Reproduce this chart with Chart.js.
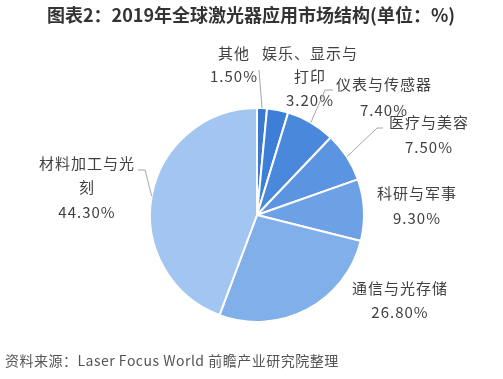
<!DOCTYPE html>
<html>
<head>
<meta charset="utf-8">
<script src="https://cdn.jsdelivr.net/npm/chart.js@4/dist/chart.umd.min.js"></script>
<style>
  html, body { margin: 0; padding: 0; background: #fff; }
  #wrap { position: relative; width: 503px; height: 379px; }
</style>
</head>
<body>
<div id="wrap"><canvas id="pie" width="503" height="379"></canvas></div>
<script>
// 2019 global laser application market structure (%)
var categories = ["其他", "娱乐、显示与打印", "仪表与传感器", "医疗与美容", "科研与军事", "通信与光存储", "材料加工与光刻"];
var shares = [1.5, 3.2, 7.4, 7.5, 9.3, 26.8, 44.3];
// how each category label wraps on the chart
var labelLines = [["其他"], ["娱乐、显示与", "打印"], ["仪表与传感器"], ["医疗与美容"], ["科研与军事"], ["通信与光存储"], ["材料加工与光", "刻"]];

var TITLE = "图表2：2019年全球激光器应用市场结构(单位：%)";
var SOURCE = "资料来源：Laser Focus World 前瞻产业研究院整理";

var COLORS = ["#3a78d2", "#3c7ed8", "#4a88dc", "#5b94e0", "#6da1e5", "#80afea", "#a2c5f1"];

// label placement: text centre x, first line y, line gap, leader (elbow points) or null
var LABEL_POS = [
  { x: 234, y: 53, gap: 23, leader: [[259, 70]] },
  { x: 310, y: 53, gap: 23.5, leader: null },
  { x: 384, y: 84, gap: 26, leader: [[333, 90], [325, 90]] },
  { x: 429, y: 122, gap: 25, leader: [[383, 128], [377, 128]] },
  { x: 417, y: 193, gap: 25, leader: null },
  { x: 400, y: 288, gap: 24, leader: null },
  { x: 87, y: 163, gap: 24.5, leader: [[138, 170], [145, 170]] }
];

var FONT = '"Noto Sans CJK SC", "Noto Sans", sans-serif';

var labelPlugin = {
  id: "pieLabels",
  afterDraw: function (chart) {
    var ctx = chart.ctx;
    var meta = chart.getDatasetMeta(0);
    ctx.save();

    // title
    ctx.fillStyle = "#333";
    ctx.font = "bold 18px " + FONT;
    ctx.textAlign = "center";
    ctx.textBaseline = "middle";
    ctx.fillText(TITLE, 251, 15);

    // source
    ctx.fillStyle = "#555";
    ctx.font = "14px " + FONT;
    ctx.textAlign = "left";
    ctx.letterSpacing = "0.5px";
    ctx.fillText(SOURCE, 5, 361);

    meta.data.forEach(function (arc, i) {
      var p = LABEL_POS[i];
      var mid = (arc.startAngle + arc.endAngle) / 2;
      var r = arc.outerRadius;
      var ex = arc.x + Math.cos(mid) * r;
      var ey = arc.y + Math.sin(mid) * r;

      if (p.leader) {
        ctx.strokeStyle = "#a6a6a6";
        ctx.lineWidth = 1;
        ctx.beginPath();
        ctx.moveTo(p.leader[0][0], p.leader[0][1]);
        for (var k = 1; k < p.leader.length; k++) ctx.lineTo(p.leader[k][0], p.leader[k][1]);
        ctx.lineTo(ex, ey);
        ctx.stroke();
      }

      ctx.fillStyle = "#404040";
      ctx.font = "15px " + FONT;
      ctx.letterSpacing = "1px";
      ctx.textAlign = "center";
      ctx.textBaseline = "middle";
      var lines = labelLines[i].concat([shares[i].toFixed(2) + "%"]);
      lines.forEach(function (t, j) {
        ctx.fillText(t, p.x, p.y + j * p.gap);
      });
    });
    ctx.restore();
  }
};

new Chart(document.getElementById("pie"), {
  type: "pie",
  data: {
    labels: categories,
    datasets: [{
      data: shares,
      backgroundColor: COLORS,
      borderColor: "#ffffff",
      borderWidth: 2
    }]
  },
  options: {
    responsive: false,
    animation: false,
    layout: { padding: { left: 149, right: 138, top: 106, bottom: 55 } },
    plugins: {
      legend: { display: false },
      tooltip: { enabled: false },
      title: { display: false }
    }
  },
  plugins: [labelPlugin]
});
</script>
</body>
</html>
